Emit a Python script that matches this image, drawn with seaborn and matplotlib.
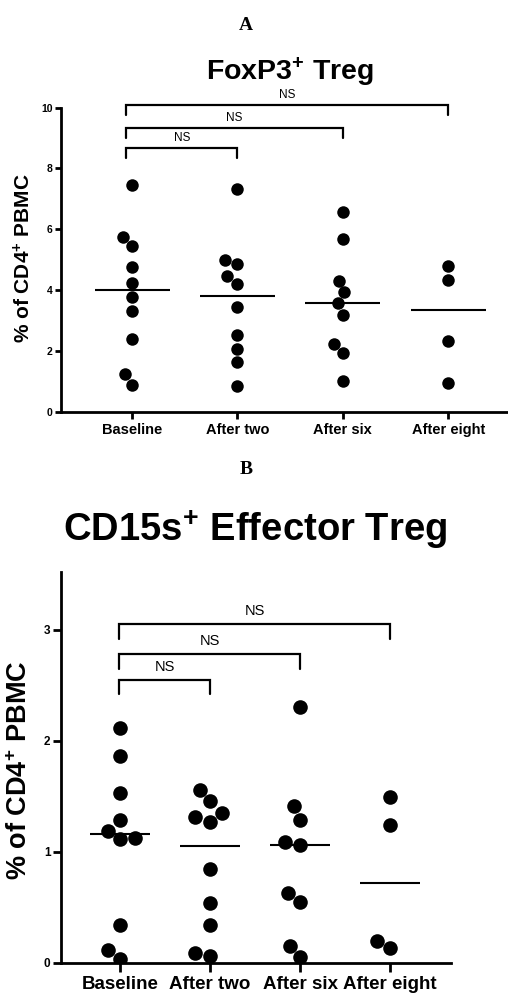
import numpy as np
import pandas as pd
import matplotlib
matplotlib.use("Agg")
import matplotlib.pyplot as plt
import seaborn as sns

# ---------------- data ----------------
categories = ["Baseline", "After two", "After six", "After eight"]

foxp3_baseline = [7.46, 5.76, 5.45, 4.76, 4.24, 3.77, 3.31, 2.38, 1.23, 0.88]
foxp3_after_two = [7.34, 4.99, 4.85, 4.46, 4.20, 3.43, 2.52, 2.06, 1.62, 0.85]
foxp3_after_six = [6.58, 5.67, 4.31, 3.93, 3.57, 3.19, 2.22, 1.92, 1.00]
foxp3_after_eight = [4.80, 4.33, 2.33, 0.93]

cd15s_baseline = [2.11, 1.86, 1.53, 1.29, 1.19, 1.12, 1.11, 0.34, 0.11, 0.03]
cd15s_after_two = [1.56, 1.46, 1.35, 1.31, 1.27, 0.84, 0.54, 0.34, 0.085, 0.063]
cd15s_after_six = [2.30, 1.41, 1.29, 1.09, 1.06, 0.63, 0.55, 0.15, 0.05]
cd15s_after_eight = [1.49, 1.24, 0.20, 0.13]

foxp3_yticks = [0, 2, 4, 6, 8, 10]
cd15s_yticks = [0, 1, 2, 3]

comparisons = [(0, 1, "NS"), (0, 2, "NS"), (0, 3, "NS")]

panel_letters = ["A", "B"]
titles = ["FoxP3$^{+}$ Treg", "CD15s$^{+}$ Effector Treg"]
ylabel = "% of CD4$^{+}$ PBMC"

# ---------------- style ----------------
sns.set_style("ticks")
plt.rcParams["font.family"] = ["Liberation Sans", "DejaVu Sans"]
plt.rcParams["text.color"] = "black"
plt.rcParams["axes.labelcolor"] = "black"
plt.rcParams["mathtext.fontset"] = "custom"
plt.rcParams["mathtext.rm"] = "Liberation Sans:bold"
plt.rcParams["mathtext.bf"] = "Liberation Sans:bold"
plt.rcParams["mathtext.it"] = "Liberation Sans:bold"

W, H = 508, 997
fig = plt.figure(figsize=(W / 100, H / 100), dpi=100)


def px_axes(left, right, top, bottom):
    return fig.add_axes([left / W, 1 - bottom / H, (right - left) / W, (bottom - top) / H])


def draw_panel(ax, groups, xlim, ylim, spine_top, yticks, dot, med_hw,
               br_levels, br_drop, br_left, ns_off, ns_size,
               xt_size, yt_size, tick_len_x, tick_len_y):
    df = pd.DataFrame({
        "group": np.repeat(categories, [len(g) for g in groups]),
        "value": np.concatenate(groups),
    })
    sns.swarmplot(data=df, x="group", y="value", order=categories,
                  color="black", size=dot, linewidth=0, ax=ax)
    med = df.groupby("group")["value"].median().reindex(categories)
    for i, m in enumerate(med.values):
        ax.hlines(m, i - med_hw, i + med_hw, color="black", lw=1.5, zorder=1)

    for (i, j, lab), yb in zip(comparisons, br_levels):
        ax.plot([i + br_left, i + br_left, j, j], [yb - br_drop, yb, yb, yb - br_drop],
                color="black", lw=1.6, clip_on=False, solid_joinstyle="miter")
        ax.text((i + br_left + j) / 2, yb + ns_off, lab, ha="center", va="center",
                fontsize=ns_size, color="black", clip_on=False)

    ax.set_xlim(*xlim)
    ax.set_ylim(*ylim)
    ax.set_yticks(yticks)
    ax.set_xlabel("")
    ax.set_ylabel("")
    sns.despine(ax=ax)
    ax.spines["left"].set_bounds(0, spine_top)
    for s in ("left", "bottom"):
        ax.spines[s].set_linewidth(2.0)
        ax.spines[s].set_color("black")
    ax.tick_params(axis="x", length=tick_len_x, width=2.0, pad=3, labelsize=xt_size, colors="black")
    ax.tick_params(axis="y", length=tick_len_y, width=2.0, pad=1.5, labelsize=yt_size, colors="black")
    for t in ax.get_xticklabels() + ax.get_yticklabels():
        t.set_fontweight("bold")


# ---------------- panel A ----------------
axA = px_axes(61, 507, 411.7 - 10.6 * 30.4, 411.7)
draw_panel(axA,
           [foxp3_baseline, foxp3_after_two, foxp3_after_six, foxp3_after_eight],
           xlim=(-0.674, 3.558), ylim=(0, 10.6), spine_top=10, yticks=foxp3_yticks,
           dot=9.0, med_hw=0.356,
           br_levels=[8.66, 9.34, 10.09], br_drop=0.33, br_left=-0.057,
           ns_off=0.33, ns_size=8.5, xt_size=10.5, yt_size=7.5,
           tick_len_x=5, tick_len_y=4.5)

# ---------------- panel B ----------------
axB = px_axes(61, 451, 962.7 - 3.52 * 111, 962.7)
draw_panel(axB,
           [cd15s_baseline, cd15s_after_two, cd15s_after_six, cd15s_after_eight],
           xlim=(-0.656, 3.678), ylim=(0, 3.52), spine_top=3.52, yticks=cd15s_yticks,
           dot=10.5, med_hw=0.33,
           br_levels=[2.55, 2.78, 3.05], br_drop=0.13, br_left=-0.01,
           ns_off=0.115, ns_size=10.5, xt_size=13.5, yt_size=8.5,
           tick_len_x=6.5, tick_len_y=6)

# ---------------- texts ----------------
fig.text(245.7 / W, 1 - 25 / H, panel_letters[0], ha="center", va="center",
         fontsize=14, fontweight="bold", family="Liberation Serif")
fig.text(245.7 / W, 1 - 470 / H, panel_letters[1], ha="center", va="center",
         fontsize=14, fontweight="bold", family="Liberation Serif")

fig.text(290 / W, 1 - 72 / H, titles[0], ha="center", va="center",
         fontsize=20.5, fontweight="bold")
fig.text(255 / W, 1 - 530 / H, titles[1], ha="center", va="center",
         fontsize=27.5, fontweight="bold")

fig.text(24 / W, 1 - 258 / H, ylabel, ha="center", va="center", rotation=90,
         fontsize=15, fontweight="bold")
fig.text(20 / W, 1 - 770 / H, ylabel, ha="center", va="center", rotation=90,
         fontsize=19.5, fontweight="bold")

fig.savefig("out.png", dpi=100)
